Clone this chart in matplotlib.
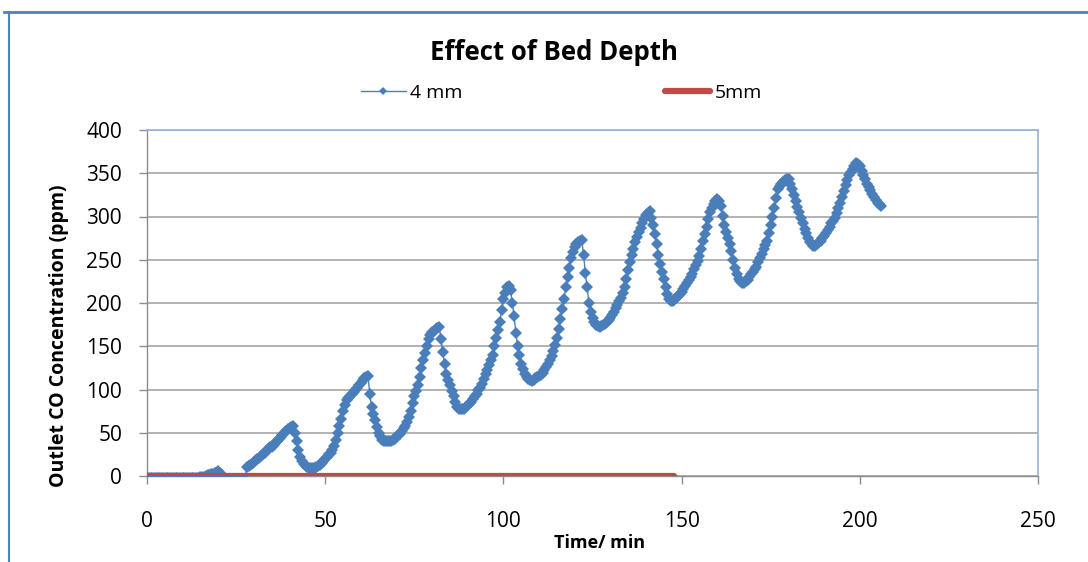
import matplotlib
matplotlib.use("Agg")
import matplotlib.pyplot as plt
from matplotlib.lines import Line2D

plt.rcParams['font.family'] = ['Open Sans', 'DejaVu Sans']

title = "Effect of Bed Depth"
xlabel = "Time/ min"
ylabel = "Outlet CO Concentration (ppm)"
series_names = ["4 mm", "5mm"]
xticks = [0, 50, 100, 150, 200, 250]
yticks = [0, 50, 100, 150, 200, 250, 300, 350, 400]

# 4 mm series: readings every half minute, t = 0 .. 206 min
conc_4mm = [
    -2, -2, -2, -2, -2, -2, -2, -2, -2, -2,            # 0 - 4.5
    -2, -2, -2, -2, -2, -2, -2, -2, -2, -2,            # 5 - 9.5
    -2, -2, -2, -2, -2, -2, -2, -2, -2, -2,            # 10 - 14.5
    -1, -1, -1, 0, 1, 1, 2, 2, 3, 4,                   # 15 - 19.5
    6, 3, 1, -2, -3, -3, -3, -3, -3, -3,               # 20 - 24.5
    -3, -3, -3, -3, -3, -3, 10, 11, 13, 14,            # 25 - 29.5
    16, 18, 20, 21, 23, 25, 27, 29, 31, 33,            # 30 - 34.5
    34, 36, 38, 40, 43, 45, 47, 50, 52, 54,            # 35 - 39.5
    56, 57, 58, 50, 40, 30, 22, 17, 14, 12,            # 40 - 44.5
    10, 9, 9, 9, 9, 10, 12, 13, 15, 17,                # 45 - 49.5
    20, 22, 25, 27, 30, 35, 42, 50, 58, 66,            # 50 - 54.5
    75, 82, 88, 90, 92, 95, 97, 100, 102, 105,         # 55 - 59.5
    108, 111, 113, 115, 116, 95, 80, 72, 65, 57,       # 60 - 64.5
    50, 46, 42, 41, 40, 40, 40, 41, 42, 43,            # 65 - 69.5
    45, 47, 49, 52, 55, 58, 62, 68, 75, 84,            # 70 - 74.5
    92, 98, 105, 115, 125, 134, 142, 150, 158, 163,    # 75 - 79.5
    166, 168, 170, 171, 172, 158, 143, 130, 118, 111,  # 80 - 84.5
    105, 98, 92, 86, 80, 78, 77, 77, 78, 80,           # 85 - 89.5
    82, 84, 86, 89, 92, 95, 99, 102, 106, 112,         # 90 - 94.5
    118, 123, 128, 134, 140, 150, 160, 169, 178, 192,  # 95 - 99.5
    205, 212, 218, 220, 215, 200, 185, 165, 150, 140,  # 100 - 104.5
    130, 124, 118, 115, 112, 111, 110, 111, 113, 114,  # 105 - 109.5
    116, 117, 119, 122, 126, 130, 134, 139, 145, 152,  # 110 - 114.5
    160, 170, 182, 193, 205, 218, 230, 241, 252, 259,  # 115 - 119.5
    265, 268, 270, 272, 273, 255, 235, 218, 200, 190,  # 120 - 124.5
    183, 178, 174, 173, 172, 173, 174, 176, 178, 180,  # 125 - 129.5
    183, 186, 190, 194, 198, 202, 206, 211, 218, 228,  # 130 - 134.5
    238, 247, 255, 263, 270, 276, 282, 287, 292, 297,  # 135 - 139.5
    302, 304, 306, 298, 290, 280, 268, 256, 245, 236,  # 140 - 144.5
    228, 219, 210, 205, 202, 202, 204, 206, 208, 210,  # 145 - 149.5
    213, 216, 220, 223, 227, 230, 234, 239, 244, 249,  # 150 - 154.5
    254, 263, 272, 280, 288, 297, 305, 310, 315, 318,  # 155 - 159.5
    320, 318, 312, 301, 290, 282, 275, 268, 260, 250,  # 160 - 164.5
    240, 234, 228, 225, 223, 223, 225, 227, 230, 233,  # 165 - 169.5
    236, 239, 242, 247, 252, 257, 262, 267, 272, 281,  # 170 - 174.5
    290, 300, 310, 321, 332, 335, 338, 340, 342, 343,  # 175 - 179.5
    343, 338, 332, 325, 318, 311, 305, 298, 292, 286,  # 180 - 184.5
    281, 275, 270, 268, 266, 266, 268, 270, 272, 275,  # 185 - 189.5
    278, 281, 284, 288, 292, 295, 298, 304, 310, 316,  # 190 - 194.5
    322, 329, 336, 342, 348, 352, 355, 358, 362, 361,  # 195 - 199.5
    358, 353, 348, 343, 338, 334, 331, 326, 322, 319,  # 200 - 204.5
    316, 314, 312,                                     # 205 - 206
]
time_4mm = [i * 0.5 for i in range(len(conc_4mm))]

# 5 mm series: constant zero up to 148 min
time_5mm = [0, 148]
conc_5mm = [0, 0]

blue = "#4a7ebb"
red = "#be4b48"

W, H = 1088, 562
fig = plt.figure(figsize=(W / 100, H / 100), dpi=100)
ax = fig.add_axes([147 / W, 1 - 476 / H, (1038 - 147) / W, (476 - 130) / H])

ax.plot(time_4mm, conc_4mm, color=blue, lw=1.0, marker="D", markersize=6.3,
        markeredgewidth=0, label=series_names[0], zorder=3)
ax.plot(time_5mm, conc_5mm, color=red, lw=4.5, solid_capstyle="round",
        label=series_names[1], zorder=4)

ax.set_xlim(0, 250)
ax.set_ylim(0, 400)
ax.set_xticks(xticks)
ax.set_yticks(yticks)
ax.set_xticklabels([str(v) for v in xticks], fontsize=15)
ax.set_yticklabels([str(v) for v in yticks], fontsize=15)
ax.tick_params(axis="x", direction="out", length=6, width=1, color="#8c8c8c", pad=19)
ax.tick_params(axis="y", direction="out", length=6, width=1, color="#8c8c8c", pad=12)

ax.grid(axis="y", color="#a6a6a6", lw=1.2)
ax.set_axisbelow(True)
for s in ["left", "bottom"]:
    ax.spines[s].set_color("#8c8c8c")
    ax.spines[s].set_linewidth(1)
for s in ["top", "right"]:
    ax.spines[s].set_color("#95b3d7")
    ax.spines[s].set_linewidth(1.2)

fig.text(600 / W, 1 - 543 / H, xlabel, fontsize=13, fontweight="bold",
         ha="center", va="center")
fig.text(59 / W, 1 - 336 / H, ylabel, fontsize=14, fontweight="bold",
         ha="center", va="center", rotation=90)

fig.text(554 / W, 1 - 52 / H, title, fontsize=18.5, fontweight="bold",
         ha="center", va="center")

leg = fig.legend(loc="center", bbox_to_anchor=(561.5 / W, 1 - 93 / H), ncol=2,
                 frameon=False, fontsize=14, handlelength=2.3, handletextpad=0.25,
                 columnspacing=10.4, markerscale=0.65)

# outer chart border (partially cropped in the reference)
fig.add_artist(Line2D([4 / W, 1.0], [1 - 11.5 / H, 1 - 11.5 / H],
                      transform=fig.transFigure, color="#4f81bd", lw=2))
fig.add_artist(Line2D([9 / W, 9 / W], [1 - 11.5 / H, 0],
                      transform=fig.transFigure, color="#4f81bd", lw=1.5))

fig.savefig("out.png", dpi=100)
